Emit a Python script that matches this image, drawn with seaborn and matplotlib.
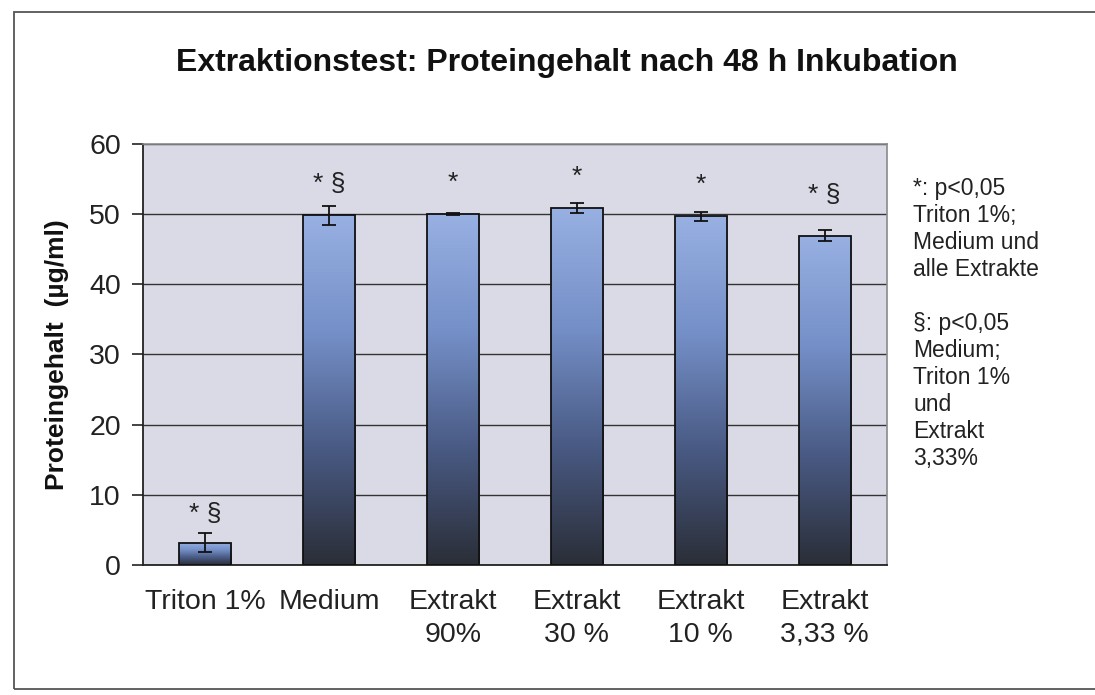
import matplotlib
matplotlib.use("Agg")
import matplotlib.pyplot as plt
import matplotlib.patches as mpatches
from matplotlib.colors import LinearSegmentedColormap
import numpy as np
import pandas as pd
import seaborn as sns

# values
categories = ["Triton 1%", "Medium", "Extrakt\n90%", "Extrakt\n30 %", "Extrakt\n10 %", "Extrakt\n3,33 %"]
protein = [3.2, 49.8, 50.0, 50.9, 49.7, 46.9]
sd = [1.4, 1.4, 0.2, 0.7, 0.65, 0.8]
marks = ["* §", "* §", "*", "*", "*", "* §"]
mark_y = [7.3, 54.3, 54.5, 55.3, 54.1, 52.7]
y_ticks = [0, 10, 20, 30, 40, 50, 60]

legend_text = ("*: p<0,05\nTriton 1%;\nMedium und\nalle Extrakte\n\n"
               "§: p<0,05\nMedium;\nTriton 1%\nund\nExtrakt\n3,33%")

sns.set_theme(style="white")
plt.rcParams["font.family"] = ["Liberation Sans", "DejaVu Sans"]

df = pd.DataFrame({"group": categories, "protein": protein})

fig = plt.figure(figsize=(10.95, 6.95), dpi=100, facecolor="white")
ax = fig.add_axes([0.1306, 0.187, 0.679, 0.606])
ax.set_facecolor("#dadae6")

sns.barplot(data=df, x="group", y="protein", ax=ax, width=0.42,
            color="white", edgecolor="#111111", linewidth=1.3, zorder=3)

# top-to-bottom gradient inside each bar
cmap = LinearSegmentedColormap.from_list(
    "bar", ["#2a2e37", "#495a84", "#7590c8", "#98b0e2"])
grad = np.linspace(0, 1, 256).reshape(-1, 1)
for patch in ax.patches:
    x0, y0 = patch.get_x(), patch.get_y()
    w, h = patch.get_width(), patch.get_height()
    im = ax.imshow(grad, cmap=cmap, origin="lower", aspect="auto",
                   extent=[x0, x0 + w, y0, y0 + h], zorder=3.5)
    im.set_clip_path(patch)
    patch.set_facecolor("none")
    patch.set_zorder(4)

xs = np.arange(len(categories))
ax.errorbar(xs, protein, yerr=sd, fmt="none", ecolor="#111111",
            elinewidth=1.3, capsize=5, capthick=1.3, zorder=5)

for x, m, y in zip(xs, marks, mark_y):
    ax.text(x, y, m, ha="center", va="center", fontsize=19, color="#222222", zorder=6)

ax.set_xlim(-0.5, len(categories) - 0.5)
ax.set_ylim(0, 60)
ax.set_yticks(y_ticks)
ax.yaxis.grid(True, color="#333333", linewidth=1.0)
ax.set_axisbelow(True)

ax.set_xticks(xs)
ax.set_xticklabels(categories, fontsize=20.5, color="#222222", linespacing=1.35)
ax.set_xticks(np.arange(len(categories) + 1) - 0.5, minor=True)
ax.tick_params(axis="x", which="major", length=0, pad=17)
ax.tick_params(axis="x", which="minor", length=8, width=1.2, color="#222222", direction="out")
ax.tick_params(axis="y", length=8, width=1.2, color="#222222", direction="out",
               labelsize=20.5, labelcolor="#222222", pad=8, left=True)

for side in ["left", "bottom"]:
    ax.spines[side].set_color("#222222")
    ax.spines[side].set_linewidth(1.3)
for side in ["top", "right"]:
    ax.spines[side].set_color("#8a8a8a")
    ax.spines[side].set_linewidth(1.2)

ax.set_xlabel("")
ax.set_ylabel("Proteingehalt  (µg/ml)", fontsize=19, fontweight="bold",
              color="#111111")
ax.yaxis.set_label_coords(-0.10, 0.5)

fig.text(0.518, 0.909, "Extraktionstest: Proteingehalt nach 48 h Inkubation",
         ha="center", va="center", fontsize=23, fontweight="bold", color="#111111")

fig.text(0.834, 0.745, legend_text, ha="left", va="top", fontsize=16.5,
         color="#222222", linespacing=1.22)

# outer frame of the scanned chart
frame = mpatches.Rectangle((0.013, 0.008), 1.1, 0.975, transform=fig.transFigure,
                           fill=False, edgecolor="#555555", linewidth=1.3,
                           clip_on=False)
fig.patches.append(frame)

fig.savefig("out.png", dpi=100, facecolor="white")
